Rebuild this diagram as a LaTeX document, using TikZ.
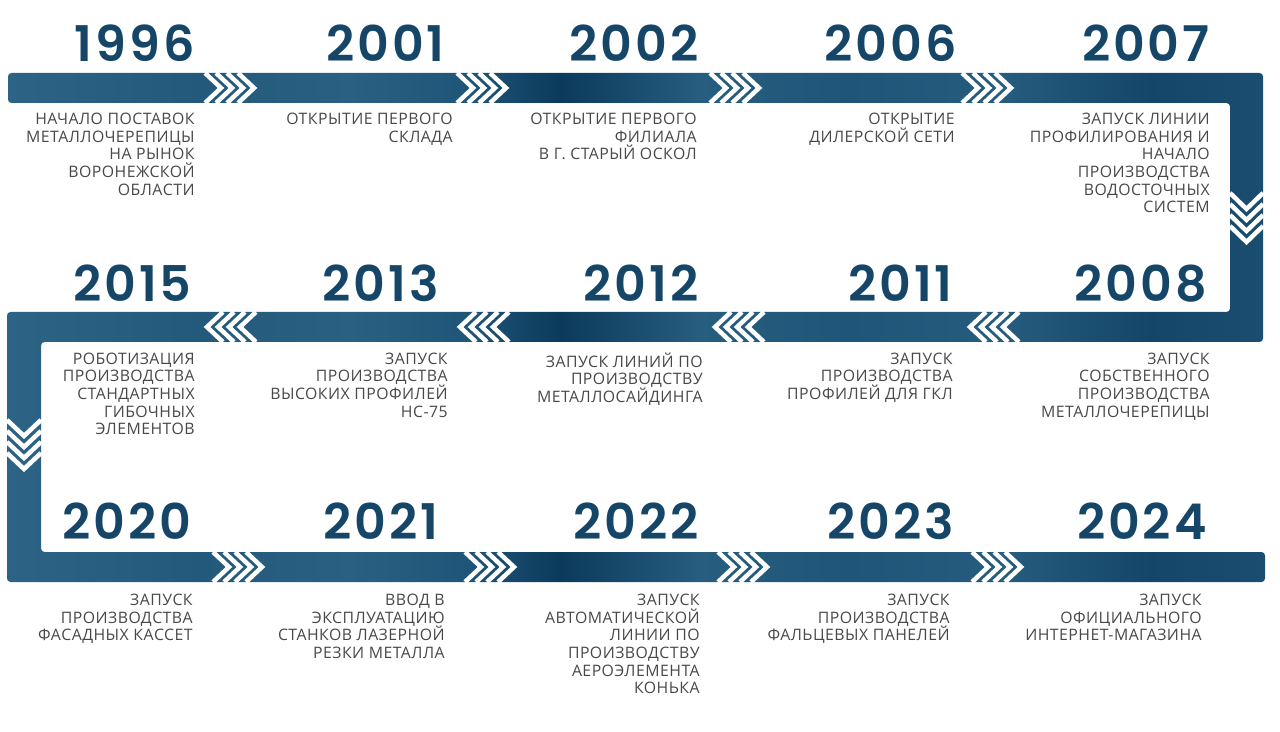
\documentclass[tikz,border=0pt]{standalone}
\usepackage{fontspec}
\setmainfont{Open Sans}[LetterSpace=3]
\newfontfamily\yearfont{Poppins}[UprightFont={* SemiBold}, LetterSpace=6]
\usepackage{xcolor}
\usepackage{tikz}
\usetikzlibrary{positioning}
\definecolor{tlnavy}{RGB}{21,70,104}
\definecolor{tltext}{RGB}{72,72,72}
\definecolor{bandA}{RGB}{45,99,133}
\definecolor{bandB}{RGB}{35,90,124}
\definecolor{bandC}{RGB}{42,96,130}
\definecolor{bandD}{RGB}{31,85,120}
\definecolor{bandE}{RGB}{11,58,92}
\definecolor{bandF}{RGB}{39,93,127}
\definecolor{bandG}{RGB}{31,85,120}
\definecolor{bandH}{RGB}{38,92,126}
\definecolor{bandI}{RGB}{20,70,105}
\definecolor{bandJ}{RGB}{26,77,112}
\pgfdeclarehorizontalshading{bandshade}{100bp}{color(0bp)=(bandA); color(25bp)=(bandA); color(32.7bp)=(bandB); color(38.6bp)=(bandC); color(43.4bp)=(bandD); color(47bp)=(bandE); color(52.5bp)=(bandF); color(58.5bp)=(bandG); color(64.5bp)=(bandH); color(70.4bp)=(bandI); color(75bp)=(bandJ); color(100bp)=(bandJ)}

\begin{document}
\begin{tikzpicture}[
    x=0.02cm, y=-0.02cm,
    yearlabel/.style={anchor=base east, inner sep=0pt, text=tlnavy, font=\yearfont\fontsize{28}{28}\selectfont},
    eventtext/.style={anchor=north east, inner sep=0pt, align=right, text=tltext, font=\fontsize{9}{10}\selectfont, execute at begin node={\rule{0pt}{9pt}}},
    chev/.style={draw=white, line width=0.09cm}
]
\useasboundingbox (0,0) rectangle (1280,732);

% Band
\shade[shading=bandshade, rounded corners=2pt] (8,73) -- (1263,73) -- (1263,342) -- (41,342) -- (41,552) -- (1265,552) -- (1265,582) -- (7,582) -- (7,312) -- (1230,312) -- (1230,103) -- (8,103) -- cycle;

% Chevrons
\foreach \cx in {205,457,710,962}
  \foreach \k in {0,...,3}
    \draw[chev] (\cx+\k*11,73) -- ++(16,15) -- ++(-16,15);
\foreach \cx in {223,476,731,986}
  \foreach \k in {0,...,3}
    \draw[chev] (\cx+\k*11,312) -- ++(-16,15) -- ++(16,15);
\foreach \cx in {213,465,718,972}
  \foreach \k in {0,...,3}
    \draw[chev] (\cx+\k*11,552) -- ++(16,15) -- ++(-16,15);
\foreach \k in {0,...,3}
  \draw[chev] (1230,193+\k*11) -- ++(16.5,16) -- ++(16.5,-16);
\foreach \k in {0,...,3}
  \draw[chev] (7,420+\k*11) -- ++(17,16) -- ++(17,-16);

% Top row
\node[yearlabel] (y1996) at (195,62) {1996};
\node[yearlabel] (y2001) at (445,62) {2001};
\node[yearlabel] (y2002) at (699,62) {2002};
\node[yearlabel] (y2006) at (957,62) {2006};
\node[yearlabel] (y2007) at (1210,62) {2007};
\node[eventtext] (e1996) at (195,113) {НАЧАЛО ПОСТАВОК\\МЕТАЛЛОЧЕРЕПИЦЫ\\НА РЫНОК\\ВОРОНЕЖСКОЙ\\ОБЛАСТИ};
\node[eventtext] (e2001) at (453,113) {ОТКРЫТИЕ ПЕРВОГО\\СКЛАДА};
\node[eventtext] (e2002) at (697,113) {ОТКРЫТИЕ ПЕРВОГО\\ФИЛИАЛА\\В Г. СТАРЫЙ ОСКОЛ};
\node[eventtext] (e2006) at (955,113) {ОТКРЫТИЕ\\ДИЛЕРСКОЙ СЕТИ};
\node[eventtext] (e2007) at (1210,113) {ЗАПУСК ЛИНИИ\\ПРОФИЛИРОВАНИЯ И\\НАЧАЛО\\ПРОИЗВОДСТВА\\ВОДОСТОЧНЫХ\\СИСТЕМ};

% Middle row
\node[yearlabel] (y2015) at (192,302) {2015};
\node[yearlabel] (y2013) at (439,302) {2013};
\node[yearlabel] (y2012) at (699,302) {2012};
\node[yearlabel] (y2011) at (953,302) {2011};
\node[yearlabel] (y2008) at (1207,302) {2008};
\node[eventtext] (e2015) at (195,352.5) {РОБОТИЗАЦИЯ\\ПРОИЗВОДСТВА\\СТАНДАРТНЫХ\\ГИБОЧНЫХ\\ЭЛЕМЕНТОВ};
\node[eventtext] (e2013) at (448,352.5) {ЗАПУСК\\ПРОИЗВОДСТВА\\ВЫСОКИХ ПРОФИЛЕЙ\\НС-75};
\node[eventtext] (e2012) at (703,352.5) {ЗАПУСК ЛИНИЙ ПО\\ПРОИЗВОДСТВУ\\МЕТАЛЛОСАЙДИНГА};
\node[eventtext] (e2011) at (953,352.5) {ЗАПУСК\\ПРОИЗВОДСТВА\\ПРОФИЛЕЙ ДЛЯ ГКЛ};
\node[eventtext] (e2008) at (1210,352.5) {ЗАПУСК\\СОБСТВЕННОГО\\ПРОИЗВОДСТВА\\МЕТАЛЛОЧЕРЕПИЦЫ};

% Bottom row
\node[yearlabel] (y2020) at (192,540) {2020};
\node[yearlabel] (y2021) at (439,540) {2021};
\node[yearlabel] (y2022) at (699,540) {2022};
\node[yearlabel] (y2023) at (954,540) {2023};
\node[yearlabel] (y2024) at (1207,540) {2024};
\node[eventtext] (e2020) at (193,594) {ЗАПУСК\\ПРОИЗВОДСТВА\\ФАСАДНЫХ КАССЕТ};
\node[eventtext] (e2021) at (445,594) {ВВОД В\\ЭКСПЛУАТАЦИЮ\\СТАНКОВ ЛАЗЕРНОЙ\\РЕЗКИ МЕТАЛЛА};
\node[eventtext] (e2022) at (700,594) {ЗАПУСК\\АВТОМАТИЧЕСКОЙ\\ЛИНИИ ПО\\ПРОИЗВОДСТВУ\\АЕРОЭЛЕМЕНТА\\КОНЬКА};
\node[eventtext] (e2023) at (950,594) {ЗАПУСК\\ПРОИЗВОДСТВА\\ФАЛЬЦЕВЫХ ПАНЕЛЕЙ};
\node[eventtext] (e2024) at (1202,594) {ЗАПУСК\\ОФИЦИАЛЬНОГО\\ИНТЕРНЕТ-МАГАЗИНА};

\end{tikzpicture}
\end{document}
